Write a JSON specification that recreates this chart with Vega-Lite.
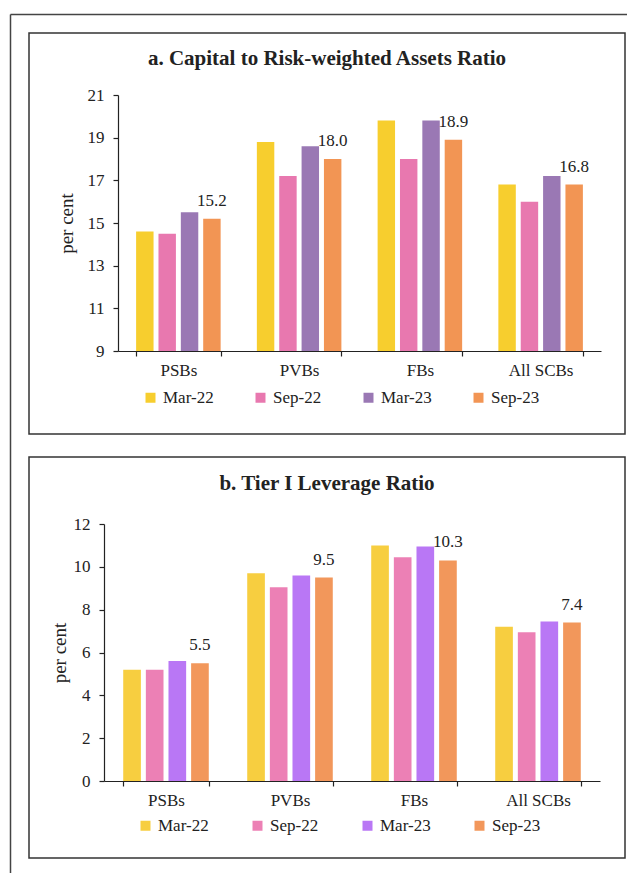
{
  "$schema": "https://vega.github.io/schema/vega-lite/v6.json",
  "padding": {"left": 6, "top": 10, "right": 0, "bottom": 0},
  "spacing": 23,
  "bounds": "flush",
  "background": "white",
  "datasets": {
    "crar": [
      {"group": "PSBs", "period": "Mar-22", "value": 14.6},
      {"group": "PSBs", "period": "Sep-22", "value": 14.5},
      {"group": "PSBs", "period": "Mar-23", "value": 15.5},
      {"group": "PSBs", "period": "Sep-23", "value": 15.2},
      {"group": "PVBs", "period": "Mar-22", "value": 18.8},
      {"group": "PVBs", "period": "Sep-22", "value": 17.2},
      {"group": "PVBs", "period": "Mar-23", "value": 18.6},
      {"group": "PVBs", "period": "Sep-23", "value": 18.0},
      {"group": "FBs", "period": "Mar-22", "value": 19.8},
      {"group": "FBs", "period": "Sep-22", "value": 18.0},
      {"group": "FBs", "period": "Mar-23", "value": 19.8},
      {"group": "FBs", "period": "Sep-23", "value": 18.9},
      {"group": "All SCBs", "period": "Mar-22", "value": 16.8},
      {"group": "All SCBs", "period": "Sep-22", "value": 16.0},
      {"group": "All SCBs", "period": "Mar-23", "value": 17.2},
      {"group": "All SCBs", "period": "Sep-23", "value": 16.8}
    ],
    "lev": [
      {"group": "PSBs", "period": "Mar-22", "value": 5.2},
      {"group": "PSBs", "period": "Sep-22", "value": 5.2},
      {"group": "PSBs", "period": "Mar-23", "value": 5.6},
      {"group": "PSBs", "period": "Sep-23", "value": 5.5},
      {"group": "PVBs", "period": "Mar-22", "value": 9.7},
      {"group": "PVBs", "period": "Sep-22", "value": 9.05},
      {"group": "PVBs", "period": "Mar-23", "value": 9.6},
      {"group": "PVBs", "period": "Sep-23", "value": 9.5},
      {"group": "FBs", "period": "Mar-22", "value": 11.0},
      {"group": "FBs", "period": "Sep-22", "value": 10.45},
      {"group": "FBs", "period": "Mar-23", "value": 10.95},
      {"group": "FBs", "period": "Sep-23", "value": 10.3},
      {"group": "All SCBs", "period": "Mar-22", "value": 7.2},
      {"group": "All SCBs", "period": "Sep-22", "value": 6.95},
      {"group": "All SCBs", "period": "Mar-23", "value": 7.45},
      {"group": "All SCBs", "period": "Sep-23", "value": 7.4}
    ]
  },
  "resolve": {"scale": {"color": "independent", "x": "independent", "y": "independent", "xOffset": "independent"}, "legend": {"color": "independent"}},
  "vconcat": [
    {
      "width": 596,
      "height": 401,
      "data": {"name": "crar"},
      "title": {"text": "a. Capital to Risk-weighted Assets Ratio", "offset": -75, "baseline": "alphabetic", "anchor": "middle"},
      "resolve": {"scale": {"x": "independent", "y": "independent"}, "axis": {"x": "independent", "y": "independent"}},
      "layer": [
        {
          "encoding": {
            "x": {"field": "group", "type": "nominal", "sort": ["PSBs", "PVBs", "FBs", "All SCBs"],
              "scale": {"range": [89, 572], "paddingInner": 0.3, "paddingOuter": 0.15},
              "axis": {"title": null, "orient": "bottom", "offset": -83, "labelAngle": 0, "tickBand": "extent", "labelPadding": 6}},
            "xOffset": {"field": "period", "type": "nominal", "sort": ["Mar-22", "Sep-22", "Mar-23", "Sep-23"],
              "scale": {"paddingInner": 0.22, "paddingOuter": 0}},
            "y": {"field": "value", "type": "quantitative",
              "scale": {"domain": [9, 21], "range": [318, 62], "zero": false, "nice": false},
              "axis": {"title": "per cent", "orient": "left", "offset": -89, "values": [9, 11, 13, 15, 17, 19, 21], "grid": false, "titlePadding": 11}}
          },
          "layer": [
            {
              "mark": {"type": "bar"},
              "encoding": {
                "y2": {"datum": 9},
                "color": {"field": "period", "type": "nominal",
                  "scale": {"domain": ["Mar-22", "Sep-22", "Mar-23", "Sep-23"], "range": ["#F7CE2E", "#E878AF", "#9A78B4", "#F29554"]},
                  "legend": {"orient": "none", "legendX": 113, "legendY": 356, "direction": "horizontal", "title": null, "columnPadding": 38}}
              }
            },
            {
              "transform": [{"filter": "datum.period === 'Sep-23'"}],
              "mark": {"type": "text", "dy": -13, "baseline": "alphabetic", "align": "center", "font": "Liberation Serif", "fontSize": 17, "color": "#222"},
              "encoding": {"text": {"field": "value", "type": "quantitative", "format": ".1f"}}
            }
          ]
        },
        {
          "mark": {"type": "point", "opacity": 0},
          "encoding": {
            "x": {"field": "value", "type": "quantitative",
              "scale": {"range": [-19, 599], "zero": false, "nice": false},
              "axis": {"orient": "top", "offset": 19, "labels": false, "ticks": false, "title": null, "grid": false, "domainColor": "#444", "domainWidth": 1.5}},
            "y": {"field": "value", "type": "quantitative",
              "scale": {"range": [840, -19], "zero": false, "nice": false},
              "axis": {"orient": "left", "offset": 19, "labels": false, "ticks": false, "title": null, "grid": false, "domainColor": "#444", "domainWidth": 1.5}}
          }
        }
      ]
    },
    {
      "width": 596,
      "height": 401,
      "data": {"name": "lev"},
      "title": {"text": "b. Tier I Leverage Ratio", "offset": -54, "baseline": "alphabetic", "anchor": "middle"},
      "encoding": {
        "x": {"field": "group", "type": "nominal", "sort": ["PSBs", "PVBs", "FBs", "All SCBs"],
          "scale": {"range": [75, 571], "paddingInner": 0.31, "paddingOuter": 0.155},
          "axis": {"title": null, "orient": "bottom", "offset": -77, "labelAngle": 0, "tickBand": "extent", "labelPadding": 6}},
        "xOffset": {"field": "period", "type": "nominal", "sort": ["Mar-22", "Sep-22", "Mar-23", "Sep-23"],
          "scale": {"paddingInner": 0.22, "paddingOuter": 0}},
        "y": {"field": "value", "type": "quantitative",
          "scale": {"domain": [0, 12], "range": [324, 67], "nice": false},
          "axis": {"title": "per cent", "orient": "left", "offset": -75, "values": [0, 2, 4, 6, 8, 10, 12], "grid": false, "titlePadding": 4}}
      },
      "layer": [
        {
          "mark": {"type": "bar"},
          "encoding": {
            "color": {"field": "period", "type": "nominal",
              "scale": {"domain": ["Mar-22", "Sep-22", "Mar-23", "Sep-23"], "range": ["#F7CE40", "#EC80B5", "#B977F5", "#F2975B"]},
              "legend": {"orient": "none", "legendX": 108, "legendY": 360, "direction": "horizontal", "title": null, "columnPadding": 40}}
          }
        },
        {
          "transform": [{"filter": "datum.period === 'Sep-23'"}],
          "mark": {"type": "text", "dy": -13, "baseline": "alphabetic", "align": "center", "font": "Liberation Serif", "fontSize": 17, "color": "#222"},
          "encoding": {"text": {"field": "value", "type": "quantitative", "format": ".1f"}}
        }
      ]
    }
  ],
  "config": {
    "font": "Liberation Serif",
    "view": {"stroke": "#333", "strokeWidth": 1.5},
    "title": {"font": "Liberation Serif", "fontSize": 21, "fontWeight": "bold", "color": "#222"},
    "axis": {
      "labelFont": "Liberation Serif", "labelFontSize": 17, "labelColor": "#222",
      "titleFont": "Liberation Serif", "titleFontSize": 19, "titleFontWeight": "normal", "titleColor": "#222",
      "domainColor": "#222", "tickColor": "#222", "tickSize": 5, "domainWidth": 1.2, "tickWidth": 1.2
    },
    "axisY": {"labelPadding": 9},
    "legend": {"labelFont": "Liberation Serif", "labelFontSize": 17, "labelColor": "#222", "symbolType": "square", "symbolSize": 100, "symbolStrokeWidth": 0, "labelOffset": 4, "padding": 0}
  }
}
